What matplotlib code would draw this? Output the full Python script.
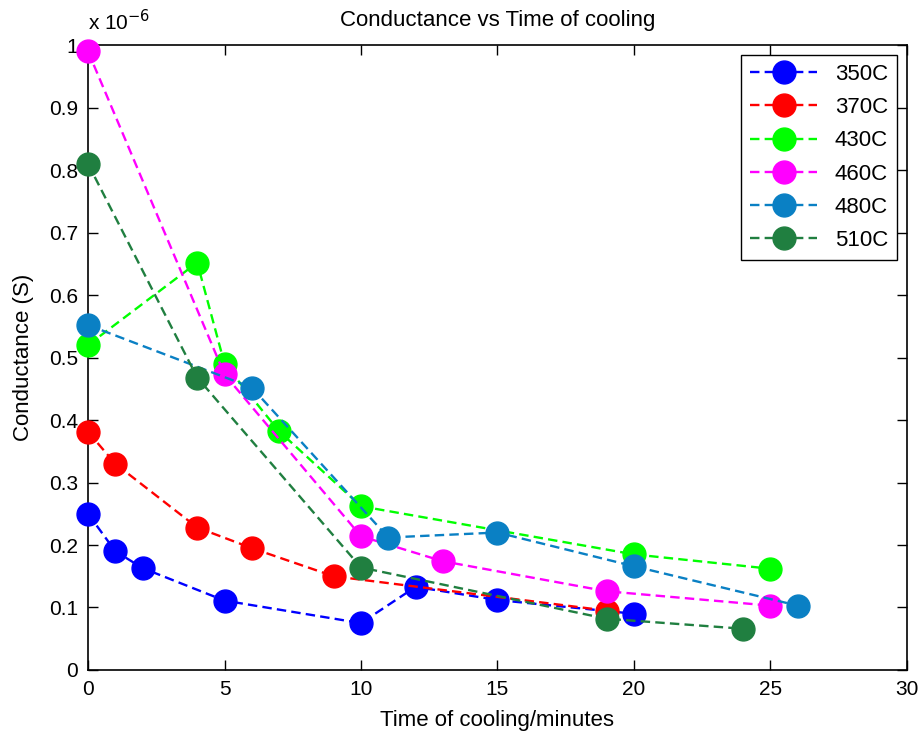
import matplotlib.pyplot as plt
from matplotlib.ticker import FuncFormatter

# plot setup (matlab-ish look)
plt.rcParams['font.family'] = ['Liberation Sans', 'DejaVu Sans']
plt.rcParams['font.size'] = 15

# data, conductance in units of 1e-6 S
t_350 = [0, 1, 2, 5, 10, 12, 15, 20]
g_350 = [0.25, 0.19, 0.163, 0.111, 0.075, 0.133, 0.112, 0.09]

t_370 = [0, 1, 4, 6, 9, 19]
g_370 = [0.381, 0.33, 0.228, 0.195, 0.15, 0.095]

t_430 = [0, 4, 5, 7, 10, 20, 25]
g_430 = [0.52, 0.652, 0.49, 0.382, 0.262, 0.185, 0.162]

t_460 = [0, 5, 10, 13, 19, 25]
g_460 = [0.99, 0.473, 0.214, 0.174, 0.126, 0.103]

t_480 = [0, 6, 11, 15, 20, 26]
g_480 = [0.552, 0.452, 0.212, 0.22, 0.166, 0.103]

t_510 = [0, 4, 10, 19, 24]
g_510 = [0.81, 0.468, 0.164, 0.082, 0.066]

labels = ['350C', '370C', '430C', '460C', '480C', '510C']
colors = ['#0000ff', '#ff0000', '#00ff00', '#ff00ff', '#0a80c4', '#207f40']


def main():
    fig = plt.figure(figsize=(9.2, 7.36), dpi=100)
    ax = fig.add_axes([0.0957, 0.0897, 0.89, 0.849])

    series = [(t_350, g_350), (t_370, g_370), (t_430, g_430),
              (t_460, g_460), (t_480, g_480), (t_510, g_510)]
    for (t, g), label, color in zip(series, labels, colors):
        ax.plot(t, g, '--o', color=color, label=label, lw=1.7,
                dashes=(4, 2.2), markersize=16.5, clip_on=False, zorder=3)

    ax.set_xlim(0, 30)
    ax.set_ylim(0, 1)
    ax.set_xticks(range(0, 31, 5))
    ax.set_yticks([i / 10 for i in range(11)])
    ax.yaxis.set_major_formatter(FuncFormatter(lambda v, p: '%g' % v))
    ax.tick_params(direction='in', top=True, right=True, length=7, width=1,
                   labelsize=15, pad=7)
    for s in ax.spines.values():
        s.set_linewidth(1.2)

    ax.set_title('Conductance vs Time of cooling', fontsize=16, pad=14)
    ax.set_xlabel('Time of cooling/minutes', fontsize=16, labelpad=8)
    ax.set_ylabel('Conductance (S)', fontsize=16, labelpad=11)
    ax.text(0.0, 1.018, r'x 10$^{-6}$', transform=ax.transAxes, fontsize=15,
            ha='left', va='bottom')

    leg = ax.legend(loc='upper right', fancybox=False, framealpha=1,
                    edgecolor='black', handlelength=3.0, labelspacing=0.55,
                    borderaxespad=0.45, fontsize=16)
    leg.get_frame().set_linewidth(1.0)

    fig.savefig('out.png', dpi=100)


if __name__ == '__main__':
    main()
